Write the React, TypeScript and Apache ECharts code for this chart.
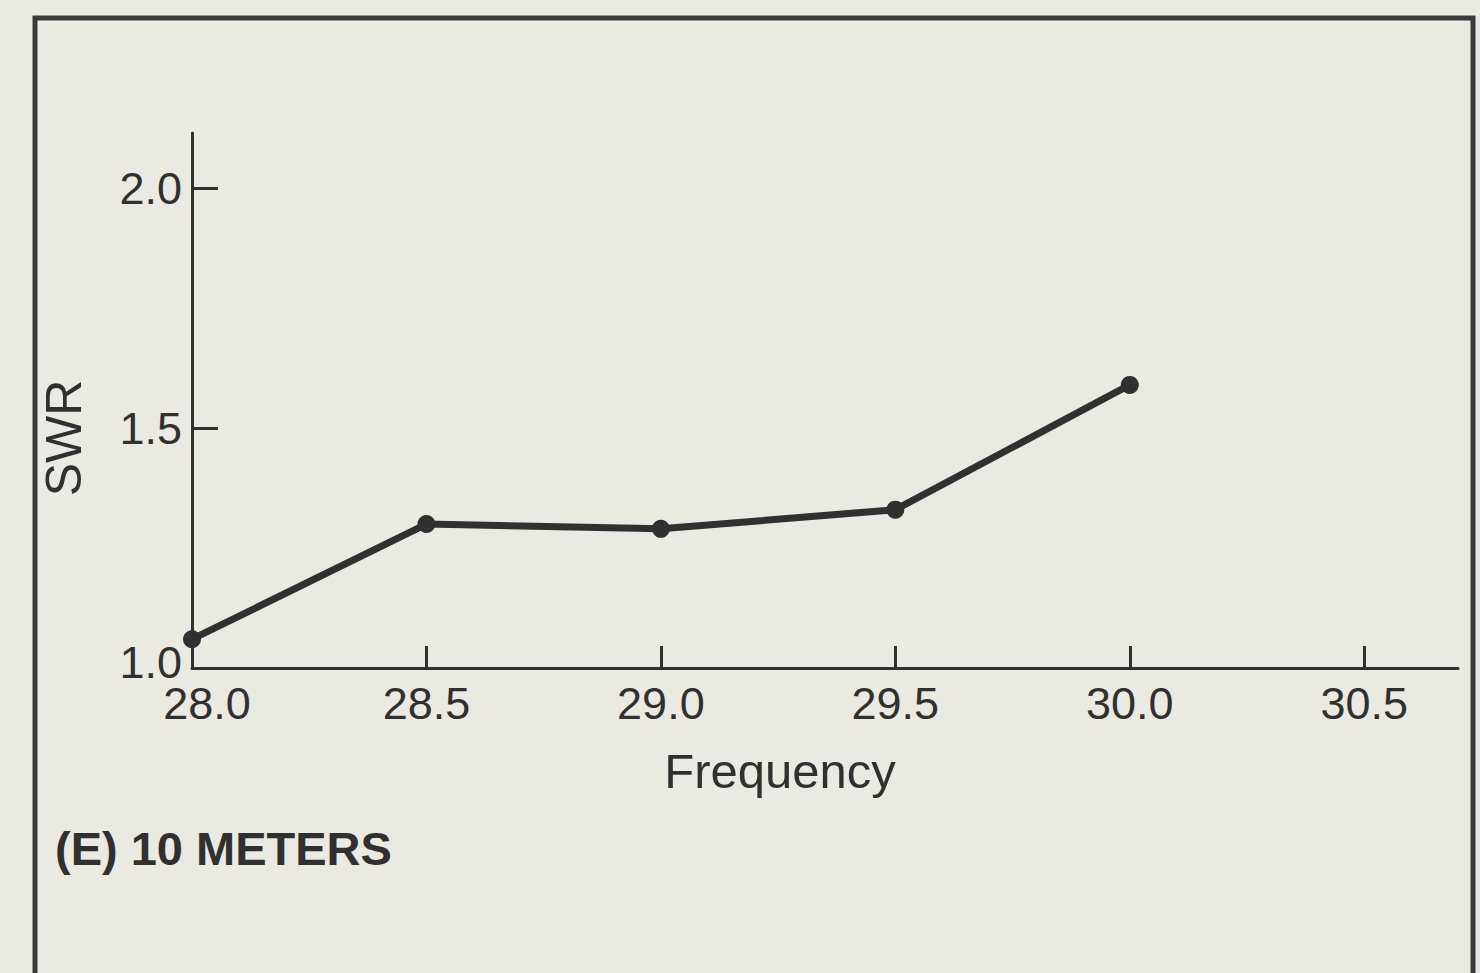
import React, { useEffect, useRef } from "react";
import * as echarts from "echarts";

const frequencies = [28.0, 28.5, 29.0, 29.5, 30.0];
const swrValues = [1.06, 1.3, 1.29, 1.33, 1.59];
const xTickValues = [28.5, 29.0, 29.5, 30.0, 30.5];
const xLabelValues = [28.0, 28.5, 29.0, 29.5, 30.0, 30.5];
const yTickValues = [1.5, 2.0];
const yLabelValues = [1.0, 1.5, 2.0];
const xAxisTitle = "Frequency";
const yAxisTitle = "SWR";
const chartTitle = "(E) 10 METERS";

export default function App() {
  const ref = useRef<HTMLDivElement>(null);
  useEffect(() => {
    const chart = echarts.init(ref.current!, null, { renderer: "svg" });
    const ink = "#303030";
    const font = '"Liberation Sans", Arial, Helvetica, sans-serif';
    chart.setOption({
      animation: false,
      backgroundColor: "#ebeae2",
      grid: { left: 192, right: 22, top: 133, bottom: 305 },
      xAxis: {
        type: "value",
        min: 28,
        max: 30.7,
        splitLine: { show: false },
        axisLine: { lineStyle: { color: ink, width: 3 } },
        axisTick: {
          inside: true,
          length: 22,
          lineStyle: { color: ink, width: 3 },
          customValues: xTickValues,
        },
        axisLabel: {
          customValues: xLabelValues,
          formatter: (v: number) => (v === 28 ? "{a|" + v.toFixed(1) + "}" : v.toFixed(1)),
          color: ink,
          fontSize: 45,
          fontFamily: font,
          margin: 13,
          rich: {
            a: { padding: [0, 0, 0, 30], color: ink, fontSize: 45, fontFamily: font },
          },
        },
      },
      yAxis: {
        type: "value",
        min: 1,
        max: 2.115,
        splitLine: { show: false },
        axisLine: { show: true, lineStyle: { color: ink, width: 3 } },
        axisTick: {
          show: true,
          inside: true,
          length: 26,
          lineStyle: { color: ink, width: 3 },
          customValues: yTickValues,
        },
        axisLabel: {
          customValues: yLabelValues,
          formatter: (v: number) => (v === 1 ? "{b|" + v.toFixed(1) + "}" : v.toFixed(1)),
          color: ink,
          fontSize: 45,
          fontFamily: font,
          margin: 10,
          rich: {
            b: { padding: [0, 0, 12, 0], color: ink, fontSize: 45, fontFamily: font },
          },
        },
      },
      series: [
        {
          type: "line",
          data: frequencies.map((f, i) => [f, swrValues[i]]),
          symbol: "circle",
          symbolSize: 18,
          lineStyle: { color: ink, width: 7 },
          itemStyle: { color: ink },
        },
      ],
      graphic: [
        {
          type: "rect",
          silent: true,
          shape: { x: 35, y: 18, width: 1438, height: 1100 },
          style: { fill: "none", stroke: "#3a3a3a", lineWidth: 5 },
        },
        {
          type: "text",
          x: 64,
          y: 438,
          rotation: Math.PI / 2,
          style: {
            text: yAxisTitle,
            font: `50px ${font}`,
            fill: ink,
            align: "center",
            verticalAlign: "middle",
          },
        },
        {
          type: "text",
          x: 780,
          y: 771,
          style: {
            text: xAxisTitle,
            font: `49px ${font}`,
            fill: ink,
            align: "center",
            verticalAlign: "middle",
          },
        },
        {
          type: "text",
          x: 55,
          y: 848,
          style: {
            text: chartTitle,
            font: `bold 47px ${font}`,
            fill: ink,
            align: "left",
            verticalAlign: "middle",
          },
        },
      ],
    });
    return () => chart.dispose();
  }, []);
  return (
    <div
      ref={ref}
      style={{ position: "fixed", left: 0, top: 0, width: 1480, height: 973 }}
    />
  );
}
